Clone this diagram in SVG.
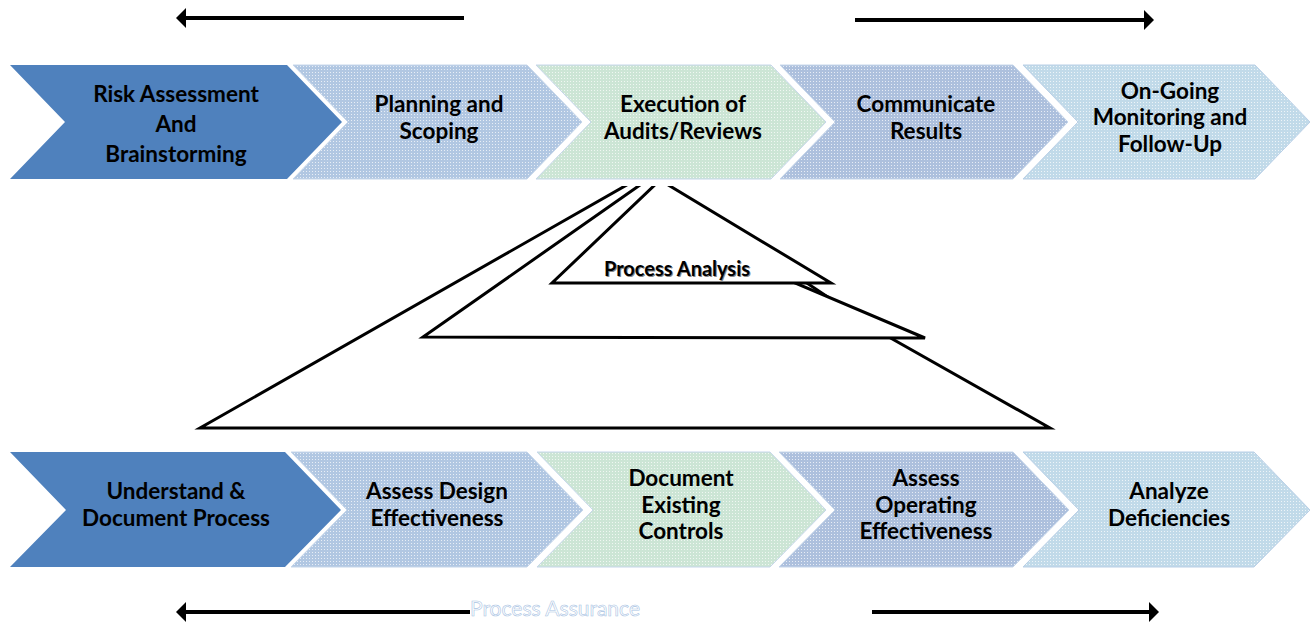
<svg xmlns="http://www.w3.org/2000/svg" width="1310" height="625" viewBox="0 0 1310 625">
<style>
.lbl{font-family:Lato,"Open Sans","Liberation Sans",sans-serif;font-weight:bold;font-size:22.5px;fill:#000;text-anchor:middle}
.tri{fill:#fff;stroke:#000;stroke-width:3;stroke-linejoin:miter}
.arr{stroke:#000;stroke-width:4;fill:none}
.dark{fill:#4F81BD}
.pa{font-family:Lato,"Open Sans","Liberation Sans",sans-serif;font-weight:bold;font-size:20px;text-anchor:middle}
</style>
<defs>
<pattern id="pBlue" width="3" height="3" patternUnits="userSpaceOnUse"><rect width="3" height="3" fill="#B1C7E2"/><rect width="1" height="1" fill="#fff" opacity="0.7"/></pattern>
<pattern id="pGreen" width="3" height="3" patternUnits="userSpaceOnUse"><rect width="3" height="3" fill="#CCE5D5"/><rect width="1" height="1" fill="#fff" opacity="0.7"/></pattern>
<pattern id="pBlue2" width="3" height="3" patternUnits="userSpaceOnUse"><rect width="3" height="3" fill="#ADC0DD"/><rect width="1" height="1" fill="#fff" opacity="0.7"/></pattern>
<pattern id="pCyan" width="3" height="3" patternUnits="userSpaceOnUse"><rect width="3" height="3" fill="#C1DAE9"/><rect width="1" height="1" fill="#fff" opacity="0.7"/></pattern>
<marker id="head" viewBox="0 0 10 20" refX="2" refY="10" markerWidth="10" markerHeight="20" markerUnits="userSpaceOnUse" orient="auto">
<path d="M0,0 L10,10 L0,20 Z" fill="#000"/>
</marker>
<clipPath id="triClip"><rect x="0" y="186" width="1310" height="260"/></clipPath>
</defs>

<g id="connectors">
<line class="arr" x1="464" y1="18" x2="184" y2="18" marker-end="url(#head)"/>
<line class="arr" x1="855" y1="20" x2="1146" y2="20" marker-end="url(#head)"/>
<line class="arr" x1="470" y1="612" x2="184" y2="612" marker-end="url(#head)"/>
<line class="arr" x1="872" y1="612" x2="1151" y2="612" marker-end="url(#head)"/>
</g>

<g id="triangles" clip-path="url(#triClip)">
<polygon id="tri-large" class="tri" points="639,178 650,178 880,332 1050,428 200,428"/>
<polygon id="tri-medium" class="tri" points="650,178 655,178 795,283 925,338 423,337"/>
<polygon id="tri-small" class="tri" points="660,180 831,283 552,283"/>
</g>
<g id="process-analysis">
<text class="pa" x="677" y="276" dx="1" dy="1" fill="#888">Process Analysis</text>
<text class="pa" x="677" y="276" fill="#000">Process Analysis</text>
</g>

<g id="top-1">
<polygon class="dark" points="10,65 287,65 342,122 287,179 10,179 65,122"/>
<text class="lbl" x="176" y="102">Risk Assessment</text>
<text class="lbl" x="176" y="132">And</text>
<text class="lbl" x="176" y="162">Brainstorming</text>
</g>
<g id="top-2">
<polygon fill="url(#pBlue)" stroke="#C6D6EA" stroke-width="1" points="293,65 527,65 582,122 527,179 293,179 348,122"/>
<text class="lbl" x="439" y="112">Planning and</text>
<text class="lbl" x="439" y="139">Scoping</text>
</g>
<g id="top-3">
<polygon fill="url(#pGreen)" stroke="#C6D6EA" stroke-width="1" points="536,65 771,65 826,122 771,179 536,179 591,122"/>
<text class="lbl" x="683" y="112">Execution of</text>
<text class="lbl" x="683" y="139">Audits/Reviews</text>
</g>
<g id="top-4">
<polygon fill="url(#pBlue2)" stroke="#C6D6EA" stroke-width="1" points="780,65 1013,65 1068,122 1013,179 780,179 835,122"/>
<text class="lbl" x="926" y="112">Communicate</text>
<text class="lbl" x="926" y="139">Results</text>
</g>
<g id="top-5">
<polygon fill="url(#pCyan)" stroke="#B9CFE6" stroke-width="1" points="1023,65 1255,65 1310,122 1255,179 1023,179 1078,122"/>
<text class="lbl" x="1170" y="99">On-Going</text>
<text class="lbl" x="1170" y="125">Monitoring and</text>
<text class="lbl" x="1170" y="152">Follow-Up</text>
</g>

<g id="bottom-1">
<polygon class="dark" points="10,452 285,452 341,510 285,567 10,567 66,510"/>
<text class="lbl" x="176" y="499">Understand &amp;</text>
<text class="lbl" x="176" y="526">Document Process</text>
</g>
<g id="bottom-2">
<polygon fill="url(#pBlue)" stroke="#C6D6EA" stroke-width="1" points="291,452 527,452 583,510 527,567 291,567 347,510"/>
<text class="lbl" x="437" y="499">Assess Design</text>
<text class="lbl" x="437" y="526">Effectiveness</text>
</g>
<g id="bottom-3">
<polygon fill="url(#pGreen)" stroke="#C6D6EA" stroke-width="1" points="537,452 770,452 826,510 770,567 537,567 593,510"/>
<text class="lbl" x="681" y="486">Document</text>
<text class="lbl" x="681" y="513">Existing</text>
<text class="lbl" x="681" y="539">Controls</text>
</g>
<g id="bottom-4">
<polygon fill="url(#pBlue2)" stroke="#C6D6EA" stroke-width="1" points="779,452 1013,452 1069,510 1013,567 779,567 835,510"/>
<text class="lbl" x="926" y="486">Assess</text>
<text class="lbl" x="926" y="513">Operating</text>
<text class="lbl" x="926" y="539">Effectiveness</text>
</g>
<g id="bottom-5">
<polygon fill="url(#pCyan)" stroke="#B9CFE6" stroke-width="1" points="1023,452 1254,452 1310,510 1254,567 1023,567 1079,510"/>
<text class="lbl" x="1169" y="499">Analyze</text>
<text class="lbl" x="1169" y="526">Deficiencies</text>
</g>

<g id="process-assurance">
<text x="555" y="616" style="font-family:Lato,'Open Sans','Liberation Sans',sans-serif;font-size:21px;text-anchor:middle;fill:#fff;stroke:#A9C3E3;stroke-width:0.6">Process Assurance</text>
</g>
</svg>
